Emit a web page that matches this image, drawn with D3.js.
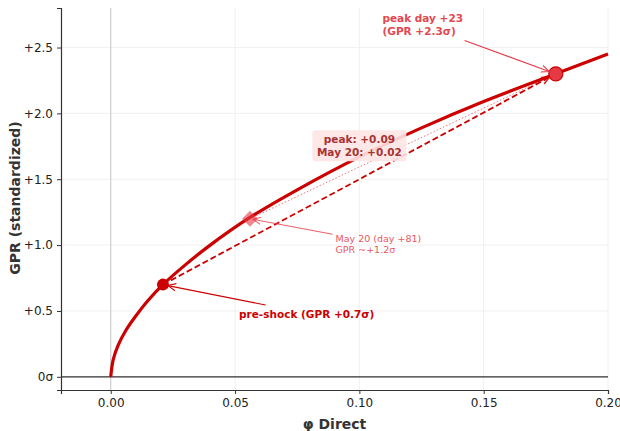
<!DOCTYPE html>
<meta charset="utf-8">
<script src="https://d3js.org/d3.v7.min.js"></script>
<style>
  body { margin: 0; background: #fff; }
  text { font-family: "DejaVu Sans", sans-serif; }
</style>
<div id="chart"></div>
<script>

// curve: phi direct vs GPR (sigma)
var curvePhi = [0, 0.001, 0.003, 0.006, 0.01, 0.015, 0.021, 0.03, 0.04, 0.056, 0.075, 0.1, 0.125, 0.15, 0.179, 0.2];
var curveGpr = [0, 0.13, 0.24, 0.35, 0.46, 0.58, 0.70, 0.85, 1.00, 1.21, 1.42, 1.67, 1.89, 2.09, 2.30, 2.45];

// the three marked days
var eventNames = ["pre-shock", "May 20", "peak"];
var eventPhi = [0.021, 0.056, 0.179];
var eventGpr = [0.70, 1.20, 2.30];

// ticks
var xTicks = [0, 0.05, 0.10, 0.15, 0.20];
var yTicks = [0, 0.5, 1.0, 1.5, 2.0, 2.5];
var yTickLabels = ["0σ", "+0.5", "+1.0", "+1.5", "+2.0", "+2.5"];

var margin = {top: 8, right: 12, bottom: 41, left: 61},
    width = 620 - margin.left - margin.right,
    height = 431 - margin.top - margin.bottom;

var dark = "#cc0000", light = "#e63946";

var svg = d3.select("#chart")
  .append("svg")
    .attr("width", 620)
    .attr("height", 431)
  .append("g")
    .attr("transform", "translate(" + margin.left + "," + margin.top + ")");

var x = d3.scaleLinear().domain([-0.02, 0.20]).range([0, width]);
var y = d3.scaleLinear().domain([-0.1, 2.8]).range([height, 0]);

// arrow heads
var defs = svg.append("defs");
function arrowHead(id, color) {
  defs.append("marker")
      .attr("id", id)
      .attr("viewBox", "0 -5 10 10")
      .attr("refX", 9)
      .attr("refY", 0)
      .attr("markerWidth", 9)
      .attr("markerHeight", 9)
      .attr("markerUnits", "userSpaceOnUse")
      .attr("orient", "auto")
    .append("path")
      .attr("d", "M0,-4L9,0L0,4")
      .attr("fill", "none")
      .attr("stroke", color)
      .attr("stroke-width", 1.2);
}
arrowHead("arrDark", dark);
arrowHead("arrLight", light);

// grid
svg.append("g").selectAll("line.gx")
  .data(xTicks).enter().append("line")
    .attr("x1", function(d) { return x(d); })
    .attr("x2", function(d) { return x(d); })
    .attr("y1", 0).attr("y2", height)
    .attr("stroke", "#ececec").attr("stroke-width", 0.8);
svg.append("g").selectAll("line.gy")
  .data(yTicks).enter().append("line")
    .attr("x1", 0).attr("x2", width)
    .attr("y1", function(d) { return y(d); })
    .attr("y2", function(d) { return y(d); })
    .attr("stroke", "#ececec").attr("stroke-width", 0.8);

// reference lines at zero
svg.append("line")
    .attr("x1", x(0)).attr("x2", x(0))
    .attr("y1", 0).attr("y2", height)
    .attr("stroke", "#c8c8c8").attr("stroke-width", 1);
svg.append("line")
    .attr("x1", 0).attr("x2", width)
    .attr("y1", y(0)).attr("y2", y(0))
    .attr("stroke", "#333").attr("stroke-width", 1.3);

// axes
var xAxis = svg.append("g")
  .attr("transform", "translate(0," + height + ")")
  .call(d3.axisBottom(x).tickValues(xTicks).tickFormat(d3.format(".2f")).tickSizeOuter(0).tickSize(4).tickPadding(4));
var yAxis = svg.append("g")
  .call(d3.axisLeft(y).tickValues(yTicks).tickFormat(function(d, i) { return yTickLabels[i]; }).tickSizeOuter(0).tickSize(4).tickPadding(4));
[xAxis, yAxis].forEach(function(a) {
  a.select(".domain").attr("stroke", "#333").attr("stroke-width", 1.2);
  a.selectAll(".tick line").attr("stroke", "#333").attr("stroke-width", 1);
  a.selectAll("text").attr("fill", "#222").style("font-size", "12px").style("font-family", "DejaVu Sans");
});

// helper: pull line end back by n px
function shorten(x1, y1, x2, y2, n) {
  var dx = x2 - x1, dy = y2 - y1, l = Math.sqrt(dx * dx + dy * dy);
  return [x2 - dx / l * n, y2 - dy / l * n];
}

// dashed connector pre-shock -> peak
var p0 = [x(eventPhi[0]), y(eventGpr[0])], p1 = [x(eventPhi[1]), y(eventGpr[1])], p2 = [x(eventPhi[2]), y(eventGpr[2])];
var e = shorten(p0[0], p0[1], p2[0], p2[1], 7);
svg.append("line")
    .attr("x1", p0[0]).attr("y1", p0[1]).attr("x2", e[0]).attr("y2", e[1])
    .attr("stroke", dark).attr("stroke-width", 1.8)
    .attr("stroke-dasharray", "6,3")
    .attr("marker-end", "url(#arrDark)");

// dotted connector May 20 -> peak
e = shorten(p1[0], p1[1], p2[0], p2[1], 7);
svg.append("line")
    .attr("x1", p1[0]).attr("y1", p1[1]).attr("x2", e[0]).attr("y2", e[1])
    .attr("stroke", light).attr("stroke-width", 1).attr("opacity", 0.7)
    .attr("stroke-dasharray", "1.5,2")
    .attr("marker-end", "url(#arrLight)");

// main curve
var line = d3.line()
  .x(function(d, i) { return x(curvePhi[i]); })
  .y(function(d) { return y(d); })
  .curve(d3.curveCatmullRom.alpha(0.5));
svg.append("path")
    .attr("d", line(curveGpr))
    .attr("fill", "none")
    .attr("stroke", dark)
    .attr("stroke-width", 3.2);

// markers
svg.append("circle")
    .attr("cx", p0[0]).attr("cy", p0[1]).attr("r", 6)
    .attr("fill", dark);
svg.append("path")
    .attr("d", d3.symbol().type(d3.symbolDiamond2).size(160)())
    .attr("transform", "translate(" + p1[0] + "," + p1[1] + ")")
    .attr("fill", light).attr("opacity", 0.6);
svg.append("circle")
    .attr("cx", p2[0]).attr("cy", p2[1]).attr("r", 7)
    .attr("fill", light).attr("stroke", dark).attr("stroke-width", 1.2);

// annotations
function annotate(tx, ty, target, shrink, color, op) {
  var e = shorten(tx, ty, target[0], target[1], shrink);
  svg.append("line")
      .attr("x1", tx).attr("y1", ty).attr("x2", e[0]).attr("y2", e[1])
      .attr("stroke", color).attr("stroke-width", 1.1).attr("opacity", op)
      .attr("marker-end", color == dark ? "url(#arrDark)" : "url(#arrLight)");
}

// pre-shock
annotate(x(0.0623), y(0.545), p0, 5, dark, 1);
svg.append("text")
    .attr("x", x(0.0788)).attr("y", y(0.445))
    .attr("text-anchor", "middle")
    .attr("fill", dark).style("font-size", "10.5px").style("font-weight", "bold")
    .text("pre-shock (GPR +0.7σ)");

// May 20
annotate(x(0.0892), y(1.083), p1, 3, light, 0.8);
var t1 = svg.append("text")
    .attr("x", x(0.0904)).attr("y", y(1.02))
    .attr("fill", light).attr("opacity", 0.85).style("font-size", "9.5px");
t1.append("tspan").text("May 20 (day +81)");
t1.append("tspan").attr("x", x(0.0904)).attr("dy", 11).text("GPR ~+1.2σ");

// peak
annotate(x(0.1423), y(2.553), p2, 7, light, 1);
var t2 = svg.append("text")
    .attr("x", x(0.1093)).attr("y", y(2.69))
    .attr("fill", "#e34850").style("font-size", "10.5px").style("font-weight", "bold");
t2.append("tspan").text("peak day +23");
t2.append("tspan").attr("x", x(0.1093)).attr("dy", 13).text("(GPR +2.3σ)");

// box with peak / May 20 values
var bx = x(0.100), by = y(1.75);
var box = svg.append("g").attr("transform", "translate(" + bx + "," + by + ")");
box.append("rect")
    .attr("x", -47).attr("y", -16).attr("width", 94).attr("height", 31)
    .attr("rx", 3)
    .attr("fill", "#fde4e4").attr("opacity", 0.9);
var t3 = box.append("text")
    .attr("text-anchor", "middle")
    .attr("fill", "#a83232").style("font-size", "10.5px").style("font-weight", "bold");
t3.append("tspan").attr("x", 0).attr("y", -3).text("peak: +0.09");
t3.append("tspan").attr("x", 0).attr("y", 10).text("May 20: +0.02");

// axis titles
svg.append("text")
    .attr("x", width / 2).attr("y", height + 39)
    .attr("text-anchor", "middle")
    .attr("fill", "#333").style("font-size", "14px").style("font-weight", "bold")
    .text("φ Direct");
svg.append("text")
    .attr("transform", "translate(" + (-41) + "," + (height / 2 - 1) + ") rotate(-90)")
    .attr("text-anchor", "middle")
    .attr("fill", "#333").style("font-size", "14px").style("font-weight", "bold")
    .text("GPR (standardized)");

</script>
